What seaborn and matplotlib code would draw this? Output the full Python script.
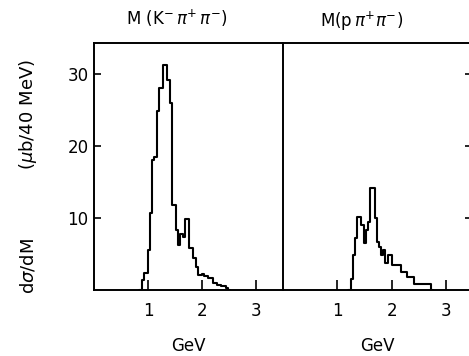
import numpy as np
import pandas as pd
import matplotlib
matplotlib.use("Agg")
import matplotlib.pyplot as plt
import seaborn as sns

# 40 MeV bins, values in microbarn per 40 MeV
# (an empty bin at each end closes the outline down to the baseline)
bin_width = 0.04

kpipi_start = 0.84
kpipi_values = [0.0, 1.4, 2.3, 2.3, 5.6, 10.7, 18.0, 18.5, 24.8, 28.1, 28.1,
                31.2, 31.2, 29.2, 25.9, 11.8, 11.8, 8.3, 6.2, 7.8, 7.3,
                9.8, 9.8, 5.8, 5.8, 4.4, 3.2, 2.1, 2.1, 2.2, 1.9,
                1.9, 1.6, 1.6, 1.0, 1.0, 0.7, 0.7, 0.5, 0.5, 0.3, 0.0]

ppipi_start = 1.20
ppipi_values = [0.0, 1.5, 4.9, 7.2, 10.2, 10.2, 9.0, 6.5, 8.3, 9.5, 14.1,
                14.1, 10.0, 6.7, 6.0, 4.9, 5.6, 3.7, 4.9, 4.9, 3.5,
                3.5, 3.5, 3.5, 2.5, 2.5, 2.5, 1.85, 1.85, 1.85, 0.9,
                0.9, 0.9, 0.9, 0.9, 0.9, 0.9, 0.9, 0.0]

titles = [r"M (K$^{-}\,\pi^{+}\,\pi^{-}$)", r"M(p$\,\pi^{+}\pi^{-}$)"]
x_ticks = [1, 2, 3]
y_ticks = [10, 20, 30]


def to_frame(start, values):
    edges = start + bin_width * np.arange(len(values) + 1)
    centers = edges[:-1] + bin_width / 2
    return pd.DataFrame({"mass": centers, "xsec": values}), [float(e) for e in edges]


sns.set_style("ticks")
plt.rcParams["font.family"] = ["DejaVu Sans"]
plt.rcParams["mathtext.fontset"] = "dejavusans"
plt.rcParams["text.color"] = "black"
plt.rcParams["xtick.color"] = "black"
plt.rcParams["ytick.color"] = "black"
plt.rcParams["axes.labelcolor"] = "black"

fig = plt.figure(figsize=(4.69, 3.56), dpi=100)
W, H = 469, 356

# axes placement in pixels (left, right), bottom=290, top=43
panels = [(94, 283, (0, 3.5)), (283, 471, (0, 3.45))]
datasets = [to_frame(kpipi_start, kpipi_values), to_frame(ppipi_start, ppipi_values)]
title_pos = [(177, 18), (362, 21)]

for i, ((x0, x1, xlim), (df, edges)) in enumerate(zip(panels, datasets)):
    ax = fig.add_axes([x0 / W, 1 - 290 / H, (x1 - x0) / W, (290 - 43) / H])
    sns.histplot(data=df, x="mass", weights="xsec", bins=edges,
                 element="step", fill=False, color="black",
                 linewidth=1.5, ax=ax)
    ax.set_xlim(*xlim)
    ax.set_ylim(0, 34.3)
    ax.set_xticks(x_ticks)
    ax.set_xticklabels([str(t) for t in x_ticks], fontsize=12)
    ax.tick_params(axis="x", direction="in", length=7, width=1.2, pad=9)
    ax.set_yticks(y_ticks)
    if i == 0:
        ax.set_yticklabels([str(t) for t in y_ticks], fontsize=12)
        ax.tick_params(axis="y", direction="in", length=5, width=1.2, pad=4)
        ax.spines["right"].set_visible(False)
    else:
        ax.yaxis.tick_right()
        ax.set_yticklabels([])
        ax.tick_params(axis="y", direction="in", length=4, width=1.2)
    for s in ax.spines.values():
        s.set_linewidth(1.4)
        s.set_color("black")
    ax.set_xlabel("GeV", fontsize=12, labelpad=12)
    ax.set_ylabel("")
    fig.text(title_pos[i][0] / W, 1 - title_pos[i][1] / H, titles[i],
             fontsize=12, ha="center", va="center")

# y-axis label in two pieces, spread along the axis as in the original
fig.text(28 / W, 1 - 266 / H, r"d$\sigma$/dM", rotation=90, fontsize=13,
         ha="center", va="center")
fig.text(28 / W, 1 - 115 / H, r"($\mu$b/40 MeV)", rotation=90, fontsize=13,
         ha="center", va="center")

fig.savefig("out.png", dpi=100)
